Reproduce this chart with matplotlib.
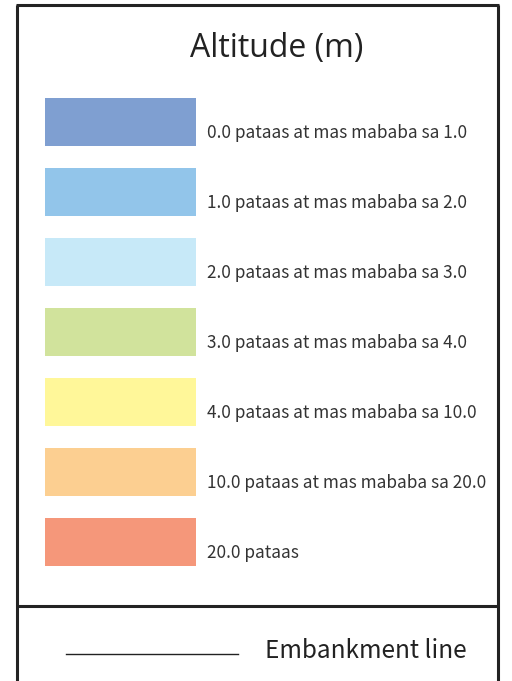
import matplotlib
matplotlib.use('Agg')
from matplotlib import pyplot as plt

title = 'Altitude (m)'
labels = [
    '0.0 pataas at mas mababa sa 1.0',
    '1.0 pataas at mas mababa sa 2.0',
    '2.0 pataas at mas mababa sa 3.0',
    '3.0 pataas at mas mababa sa 4.0',
    '4.0 pataas at mas mababa sa 10.0',
    '10.0 pataas at mas mababa sa 20.0',
    '20.0 pataas',
]
colors = ['#7f9fd1', '#92c5ea', '#c7e9f8', '#d1e39c',
          '#fff799', '#fccf91', '#f5977a']
line_label = 'Embankment line'

W, H = 512, 681
fig = plt.figure(figsize=(W / 100, H / 100), dpi=100)
ax = fig.add_axes([0, 0, 1, 1])
ax.set_xlim(0, W)
ax.set_ylim(H, 0)
ax.axis('off')

font = ['Noto Sans CJK JP', 'DejaVu Sans']
edge = '#232323'

# outer frame and divider
ax.plot([17, 17], [5, H + 5], color=edge, lw=2.2, solid_capstyle='butt')
ax.plot([498, 498], [5, H + 5], color=edge, lw=2.2, solid_capstyle='butt')
ax.plot([16, 499], [5, 5], color=edge, lw=2.2, solid_capstyle='butt')
ax.plot([16, 499], [606, 606], color=edge, lw=2.2, solid_capstyle='butt')

ax.text(277, 48, title, ha='center', va='center', fontsize=23,
        family='Open Sans', color='#222222')

# swatches
first, step, sw_h = 122, 70, 48
ys = [first + i * step for i in range(len(labels))]
ax.barh(ys, [151] * len(labels), left=45, height=sw_h, color=colors)
for y, lab in zip(ys, labels):
    ax.text(207, y + 11, lab, ha='left', va='center', fontsize=12.4,
            family=font, color='#333333')

ax.plot([66, 238], [654, 654], color='#222222', lw=1)
ax.text(265, 651, line_label, ha='left', va='center', fontsize=17.5,
        family=font, color='#222222')

fig.savefig('out.png', dpi=100)
